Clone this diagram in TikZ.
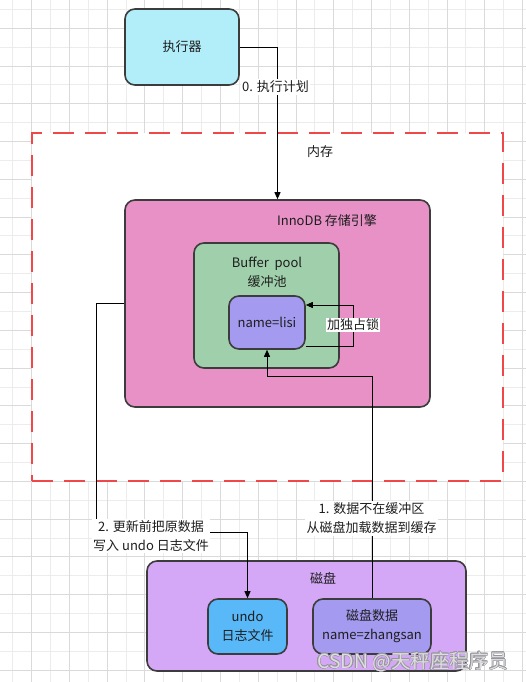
\documentclass[tikz,border=0pt]{standalone}
\usepackage{fontspec}
\setmainfont{Noto Sans CJK SC}
\usepackage{contour}
\contourlength{0.45pt}
\contournumber{16}
\usetikzlibrary{arrows.meta}
\definecolor{strokec}{RGB}{60,60,60}
\definecolor{textc}{RGB}{30,30,30}
\definecolor{execc}{RGB}{178,238,250}
\definecolor{innoc}{RGB}{231,145,198}
\definecolor{bufc}{RGB}{160,208,171}
\definecolor{lisic}{RGB}{164,155,240}
\definecolor{diskc}{RGB}{212,168,247}
\definecolor{undoc}{RGB}{88,184,248}
\definecolor{redc}{RGB}{240,72,72}
\definecolor{gridminor}{RGB}{236,236,236}
\definecolor{gridmajor}{RGB}{218,218,218}
\definecolor{wmc}{RGB}{222,222,226}
\definecolor{wmo}{RGB}{150,150,155}
\begin{document}
\begin{tikzpicture}[x=1pt,y=-1pt,
  box/.style={draw=strokec, line width=1.6pt, rounded corners=10pt, inner sep=0pt, font=\fontsize{13}{19}\selectfont, text=textc, align=center},
  txt/.style={font=\fontsize{13}{19}\selectfont, text=textc, align=center, inner sep=0pt},
  lbl/.style={txt, fill=white, inner sep=1.5pt},
  arr/.style={draw=black, line width=0.9pt, -{Triangle[length=7pt,width=6pt]}},
  ln/.style={draw=black, line width=0.9pt}]
\useasboundingbox (0,0) rectangle (526,682);
% grid
\foreach \k in {0,2,...,26} \draw[gridminor, line width=0.8pt] ({12.7+18.88*\k},0) -- ({12.7+18.88*\k},682);
\foreach \k in {0,2,...,34} \draw[gridminor, line width=0.8pt] (0,{9.3+18.88*\k}) -- (526,{9.3+18.88*\k});
\foreach \k in {1,3,...,27} \draw[gridmajor, line width=0.8pt] ({12.7+18.88*\k},0) -- ({12.7+18.88*\k},682);
\foreach \k in {1,3,...,35} \draw[gridmajor, line width=0.8pt] (0,{9.3+18.88*\k}) -- (526,{9.3+18.88*\k});
% memory area
\node[draw=redc, fill=white, line width=2.4pt, dash pattern=on 21pt off 11pt, minimum width=471pt, minimum height=348pt, inner sep=0pt] (mem) at (267.5,307) {};
\node[txt] (memlbl) at (320,152) {内存};
% boxes
\node[box, fill=execc, minimum width=114pt, minimum height=76pt] (exec) at (182,47) {执行器};
\node[box, fill=innoc, minimum width=305pt, minimum height=207pt] (inno) at (277.5,303.5) {};
\node[txt] (innolbl) at (327,221) {InnoDB 存储引擎};
\node[box, fill=bufc, minimum width=145pt, minimum height=125pt] (buf) at (266.5,305.5) {};
\node[txt] (buflbl) at (267,272) {Buffer\ \ pool\\缓冲池};
\node[box, fill=lisic, minimum width=76pt, minimum height=53pt] (lisi) at (267,322.5) {name=lisi};
\node[box, fill=diskc, minimum width=319pt, minimum height=110pt] (disk) at (306.5,616) {};
\node[txt] (disklbl) at (323,578) {磁盘};
\node[box, fill=undoc, minimum width=79pt, minimum height=55pt] (undo) at (247.5,626.5) {undo\\日志文件};
\node[box, fill=lisic, minimum width=118pt, minimum height=55pt] (dd) at (372,626.5) {磁盘数据\\name=zhangsan};
% connectors
\draw[arr] (exec.east) -| (inno.north);
\node[lbl] (l0) at (275.5,87) {0. 执行计划};
\draw[arr] ([yshift=-23.5pt]lisi.east) -- ++(48,0) |- ([yshift=17.5pt]lisi.east);
\node[lbl, inner sep=1pt] (lk) at (353,325) {加独占锁};
\draw[arr] (dd.north) |- ([yshift=-27pt]lisi.south) -- (lisi.south);
\node[lbl] (l1) at (371.5,518.5) {1. 数据不在缓冲区\\从磁盘加载数据到缓存};
\draw[arr] (inno.west) -- ++(-28,0) |- ([yshift=66pt]undo.north) -- (undo.north);
\node[lbl] (l2) at (151,536) {2. 更新前把原数据\\写入 undo 日志文件};
% watermark
\node[anchor=west, inner sep=0pt, text=wmc, font=\fontsize{19.5}{22}\selectfont] (wm) at (317,662) {\contour{wmo}{CSDN @天秤座程序员}};
\end{tikzpicture}
\end{document}
